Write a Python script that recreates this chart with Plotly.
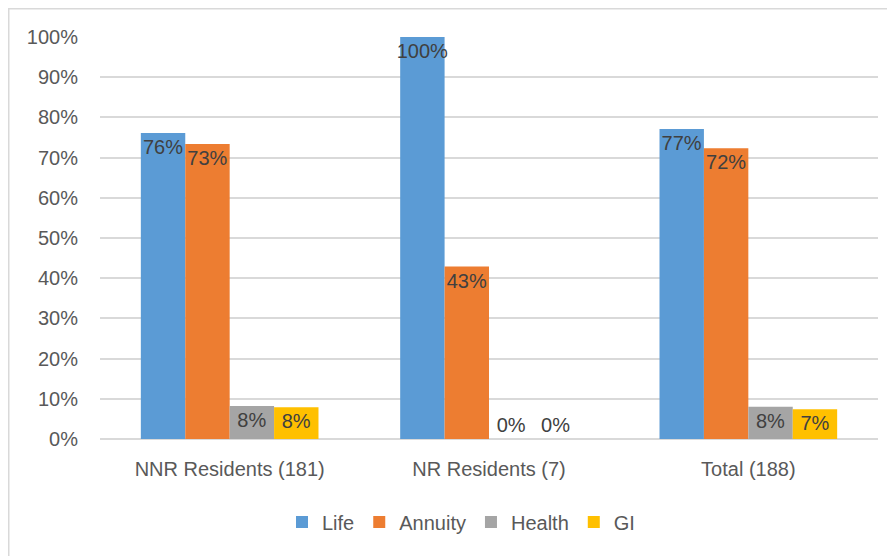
import plotly.graph_objects as go

# categories and series values (share of residents)
categories = ["NNR Residents (181)", "NR Residents (7)", "Total (188)"]
life = [0.761, 1.00, 0.771]
annuity = [0.734, 0.429, 0.723]
health = [0.082, 0.0, 0.080]
gi = [0.079, 0.0, 0.074]

series = [
    ("Life", life, "#5B9BD5"),
    ("Annuity", annuity, "#ED7D31"),
    ("Health", health, "#A5A5A5"),
    ("GI", gi, "#FFC000"),
]

W, H = 895, 556
# page body adds an 8px offset, so margins are shifted to compensate
OFF = 8
L, T = 100 - OFF, 37 - OFF
pw, ph = 778, 402
R = W - L - pw
B = H - T - ph

fig = go.Figure()
for name, vals, color in series:
    # zero bars can't hold text inside, so put those labels just above
    pos = ["outside" if v == 0 else "inside" for v in vals]
    fig.add_trace(go.Bar(
        name=name,
        x=categories,
        y=vals,
        marker_color=color,
        marker_line_width=0,
        texttemplate="%{y:.0%}",
        textposition=pos,
        insidetextanchor="end",
        textangle=0,
        constraintext="none",
        cliponaxis=False,
        textfont=dict(family="Liberation Sans", size=20, color="#404040"),
    ))

# light frame around the chart (only top/left edges visible in the picture)
fig.add_shape(
    type="rect", xref="paper", yref="paper",
    x0=(0.5 - L) / pw, x1=(W + 20 - L) / pw,
    y0=(T + ph - (H + 20)) / ph, y1=(T + ph - 0.5) / ph,
    line=dict(color="#D9D9D9", width=2), fillcolor="rgba(0,0,0,0)",
    layer="below",
)

fig.update_layout(
    width=W, height=H,
    margin=dict(l=L, r=R, t=T, b=B),
    paper_bgcolor="white",
    plot_bgcolor="white",
    barmode="group",
    bargap=0.315,
    bargroupgap=0,
    font=dict(family="Liberation Sans", size=20, color="#595959"),
    legend=dict(
        orientation="h",
        x=(461 - 100) / pw, xanchor="center",
        y=(439 - 522) / ph, yanchor="middle",
        font=dict(size=20, color="#595959"),
        itemclick=False,
    ),
    xaxis=dict(
        showgrid=False,
        showline=False,
        ticks="",
        ticklabelstandoff=16,
        tickfont=dict(size=20, color="#595959"),
    ),
    yaxis=dict(
        range=[0, 1.0],
        dtick=0.1,
        tickformat=".0%",
        showgrid=True,
        gridcolor="#D9D9D9",
        gridwidth=1.5,
        zeroline=True,
        zerolinecolor="#D9D9D9",
        zerolinewidth=1.5,
        showline=False,
        ticks="",
        ticklabelstandoff=21,
        tickfont=dict(size=20, color="#595959"),
    ),
)

fig.write_html("out.html")
